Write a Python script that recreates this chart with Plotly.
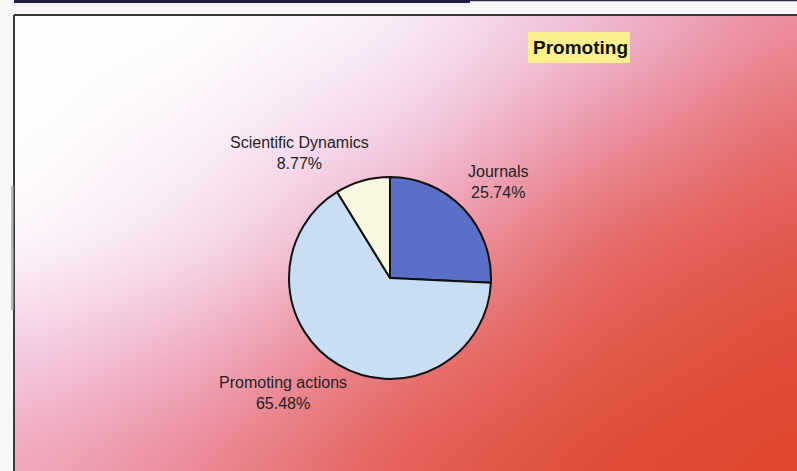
import base64
import struct
import zlib

import numpy as np
import plotly.graph_objects as go

# ---- data -------------------------------------------------------------
categories = ["Journals", "Promoting actions", "Scientific Dynamics"]
shares = [25.74, 65.48, 8.77]
slice_colors = ["#5b6ec8", "#c9def4", "#f9f6e1"]
title_text = "Promoting"

# label anchor points (paper pixels, x / y from top) for each category
label_pos = [(498, 182), (283, 393), (299, 153)]

W, H = 797, 471
FX, FY = 14, 15  # top-left corner of the framed panel


def png_data_uri(rgb):
    h, w, _ = rgb.shape
    raw = b"".join(b"\x00" + rgb[r].tobytes() for r in range(h))

    def chunk(tag, data):
        c = struct.pack(">I", len(data)) + tag + data
        return c + struct.pack(">I", zlib.crc32(tag + data) & 0xFFFFFFFF)

    png = (b"\x89PNG\r\n\x1a\n"
           + chunk(b"IHDR", struct.pack(">IIBBBBB", w, h, 8, 2, 0, 0, 0))
           + chunk(b"IDAT", zlib.compress(raw, 9))
           + chunk(b"IEND", b""))
    return "data:image/png;base64," + base64.b64encode(png).decode()


def hex_rgb(h):
    h = h.lstrip("#")
    return [int(h[i:i + 2], 16) for i in (0, 2, 4)]


# backdrop: smooth colour field given on a coarse grid of control points
grid_x = [14, 200, 400, 600, 797]
grid_y = [15, 120, 240, 360, 471]
grid_cols = [
    ["ffffff", "ffffff", "faf0fa", "efc0dc", "ec8c9c"],
    ["ffffff", "fcf4fa", "f4d4ec", "ec98ac", "e66c6c"],
    ["fefafd", "f6e0f0", "eea4bc", "e66a68", "e2564a"],
    ["f4cce6", "f0aac2", "e87474", "e25848", "e04c38"],
    ["f0a6b8", "ea8490", "e45c52", "e04c38", "e0462c"],
]
G = np.array([[hex_rgb(c) for c in row] for row in grid_cols], dtype=float)

xs = np.arange(FX, W) + 0.5
ys = np.arange(FY, H) + 0.5
# interpolate along x for each control row, then along y
rows = np.stack([
    np.stack([np.interp(xs, grid_x, G[j, :, k]) for k in range(3)], axis=-1)
    for j in range(len(grid_y))
])  # (ny, nx, 3)
field = np.empty((len(ys), len(xs), 3))
for k in range(3):
    for i in range(len(xs)):
        field[:, i, k] = np.interp(ys, grid_y, rows[:, i, k])


def box_blur(a, rad, axis):
    pad = [(0, 0)] * a.ndim
    pad[axis] = (rad, rad)
    p = np.pad(a, pad, mode="edge")
    c = np.cumsum(p, axis=axis)
    c = np.concatenate([np.zeros_like(np.take(c, [0], axis=axis)), c], axis=axis)
    n = a.shape[axis]
    hi = np.take(c, np.arange(2 * rad + 1, 2 * rad + 1 + n), axis=axis)
    lo = np.take(c, np.arange(0, n), axis=axis)
    return (hi - lo) / (2 * rad + 1)


for _ in range(3):
    field = box_blur(field, 30, 0)
    field = box_blur(field, 40, 1)

rgb = np.clip(field, 0, 255).astype(np.uint8)
bg_uri = png_data_uri(rgb)
pw, ph = W - FX, H - FY

# pie geometry
cx, cy, r = 390, 278, 101

fig = go.Figure()
fig.add_trace(go.Pie(
    labels=categories,
    values=shares,
    sort=False,
    direction="clockwise",
    rotation=0,
    marker=dict(colors=slice_colors, line=dict(color="#111111", width=2)),
    textinfo="none",
    hoverinfo="label+percent",
    showlegend=False,
    domain=dict(x=[(cx - r) / W, (cx + r) / W],
                y=[1 - (cy + r) / H, 1 - (cy - r) / H]),
))

annotations = []
for name, val, (lx, ly) in zip(categories, shares, label_pos):
    annotations.append(dict(
        x=lx / W, y=1 - ly / H, xref="paper", yref="paper",
        text=f"{name}<br>{val:.2f}%", showarrow=False,
        xanchor="center", yanchor="middle", align="center",
        font=dict(family="Liberation Sans, Arial, sans-serif", size=16,
                  color="#231f1f"),
    ))
annotations.append(dict(
    x=580 / W, y=1 - 48 / H, xref="paper", yref="paper",
    text=f"<b>{title_text}</b>", showarrow=False,
    xanchor="center", yanchor="middle",
    font=dict(family="Liberation Sans, Arial, sans-serif", size=19,
              color="#111111"),
))


def px(x):
    return x / W


def py(y):
    return 1 - y / H


shapes = [
    # yellow tag behind the title
    dict(type="rect", xref="paper", yref="paper",
         x0=px(528), x1=px(630), y0=py(63), y1=py(32),
         fillcolor="#f8f08c", line=dict(width=0), layer="below"),
    # header bar above the panel
    dict(type="rect", xref="paper", yref="paper",
         x0=px(FX), x1=px(470), y0=py(3), y1=py(0),
         fillcolor="#1d1d45", line=dict(width=0)),
    dict(type="rect", xref="paper", yref="paper",
         x0=px(470), x1=px(W), y0=py(1.2), y1=py(0),
         fillcolor="#2a2a40", line=dict(width=0)),
    # panel frame
    dict(type="line", xref="paper", yref="paper",
         x0=px(FX), x1=px(W), y0=py(FY), y1=py(FY),
         line=dict(color="#3a3a3a", width=2)),
    dict(type="line", xref="paper", yref="paper",
         x0=px(FX), x1=px(FX), y0=py(FY), y1=py(H),
         line=dict(color="#3a3a3a", width=2)),
    dict(type="rect", xref="paper", yref="paper",
         x0=px(11), x1=px(13.5), y0=py(310), y1=py(186),
         fillcolor="#b8b8bc", line=dict(width=0)),
]

fig.update_layout(
    width=W, height=H,
    margin=dict(l=0, r=0, t=0, b=0),
    paper_bgcolor="#f7f7f9",
    plot_bgcolor="rgba(0,0,0,0)",
    images=[dict(source=bg_uri, xref="paper", yref="paper",
                 x=px(FX), y=py(FY), sizex=pw / W, sizey=ph / H,
                 xanchor="left", yanchor="top", sizing="stretch",
                 layer="below")],
    annotations=annotations,
    shapes=shapes,
)

fig.write_html("out.html")
